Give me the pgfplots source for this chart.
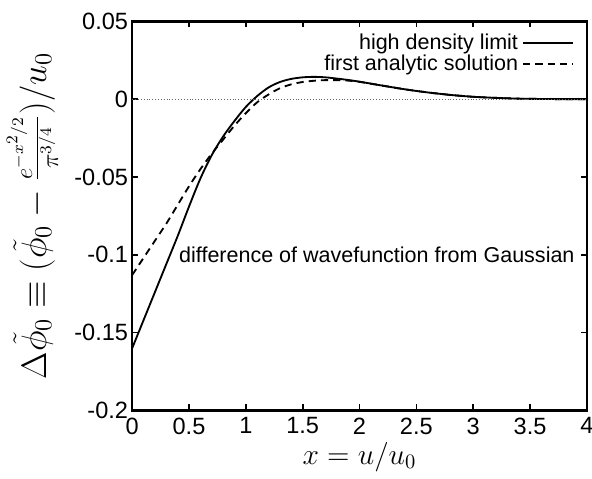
\documentclass[border=0pt]{standalone}
\usepackage{fontspec}
\setmainfont{Liberation Sans}
\usepackage{pgfplots}
\pgfplotsset{compat=1.18}

\begin{document}
\begin{tikzpicture}
\begin{axis}[
    width=222pt, height=190pt,
    scale only axis,
    xmin=0, xmax=4, ymin=-0.2, ymax=0.05,
    xtick={0,0.5,...,4},
    ytick={-0.2,-0.15,-0.1,-0.05,0,0.05},
    scaled y ticks=false,
    yticklabel style={/pgf/number format/fixed, /pgf/number format/precision=2, xshift=1.5pt},
    /pgf/number format/assume math mode=true,
    tick align=inside,
    major tick length=3pt,
    axis line style={line width=1.2pt},
    tick style={black, line width=0.8pt},
    ticklabel style={font=\fontsize{11.5}{13}\selectfont},
    xlabel={$x = u/u_0$},
    xlabel style={font=\fontsize{14}{16}\selectfont, yshift=3pt},
    ylabel={$\Delta\tilde\phi_0 \equiv \big(\tilde\phi_0 - \frac{e^{-x^2/2}}{\pi^{3/4}}\big)/u_0$},
    ylabel style={font=\fontsize{17}{19}\selectfont, yshift=1pt},
    legend style={draw=none, fill=none, at={(0.985,0.99)}, anchor=north east,
        font=\fontsize{10.5}{11}\selectfont, row sep=-3pt},
    legend cell align=right,
    legend plot pos=right,
    legend image code/.code={\draw[#1] (0cm,0cm) -- (0.85cm,0cm);},
]
\addplot[black, line width=0.9pt, smooth] coordinates {
(0,-0.160) (0.1,-0.142) (0.2,-0.124) (0.3,-0.106) (0.4,-0.088) (0.5,-0.069)
(0.6,-0.051) (0.7,-0.036) (0.8,-0.024) (0.9,-0.014) (1.0,-0.005) (1.1,0.002)
(1.2,0.0075) (1.3,0.011) (1.4,0.013) (1.5,0.014) (1.6,0.0143) (1.7,0.014)
(1.8,0.0132) (1.9,0.0123) (2.0,0.0112) (2.2,0.0087) (2.4,0.0063) (2.6,0.0043)
(2.8,0.0027) (3.0,0.0015) (3.2,0.0008) (3.4,0.0003) (3.6,0.0001) (3.8,0.0) (4.0,0.0)
};
\addlegendentry{high density limit}
\addplot[black, line width=0.9pt, dash pattern=on 3.5pt off 2.5pt, smooth] coordinates {
(0,-0.113) (0.1,-0.102) (0.2,-0.091) (0.3,-0.080) (0.4,-0.068) (0.5,-0.056)
(0.6,-0.045) (0.7,-0.035) (0.8,-0.026) (0.9,-0.017) (1.0,-0.009) (1.1,-0.002)
(1.2,0.003) (1.3,0.007) (1.4,0.0095) (1.5,0.011) (1.6,0.0118) (1.7,0.0122)
(1.8,0.0122) (1.9,0.0119) (2.0,0.0111) (2.2,0.0087) (2.4,0.0063) (2.6,0.0043)
(2.8,0.0027) (3.0,0.0015) (3.2,0.0008) (3.4,0.0003) (3.6,0.0001) (3.8,0.0) (4.0,0.0)
};
\addlegendentry{first analytic solution}
\addplot[black!60, densely dotted, line width=0.4pt, forget plot] coordinates {(0,0) (4,0)};
\node[anchor=west, font=\fontsize{10.5}{12}\selectfont] at (axis cs:0.35,-0.1) {difference of wavefunction from Gaussian};
\end{axis}
\coordinate (R) at ([xshift=2.5pt]current axis.south east);
\coordinate (T) at ([yshift=3pt]current axis.outer north east);
\pgfresetboundingbox
\useasboundingbox (current axis.outer south west) rectangle (R |- T);
\end{tikzpicture}
\end{document}
